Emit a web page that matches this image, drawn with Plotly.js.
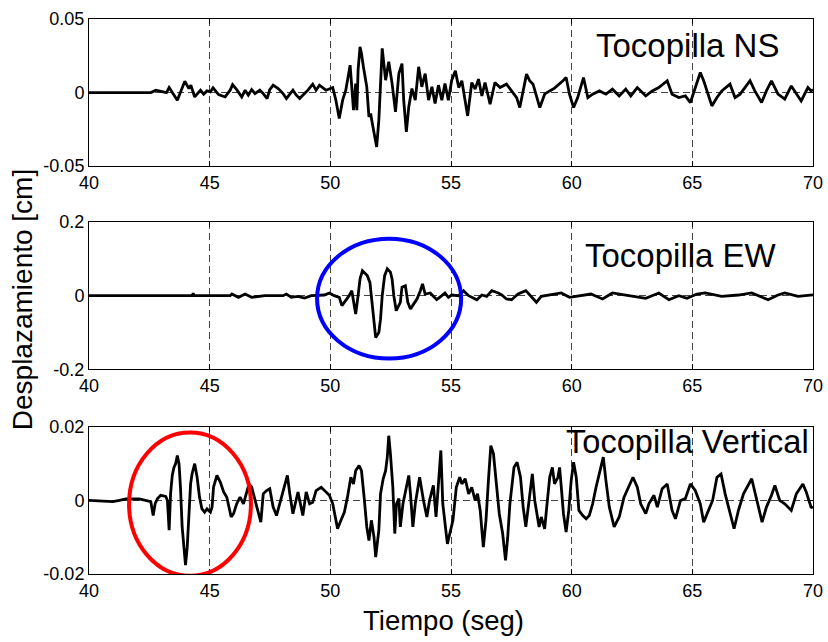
<!DOCTYPE html>
<html>
<head>
<meta charset="utf-8">
<script src="https://cdn.plot.ly/plotly-3.0.1.min.js"></script>
<style>html,body{margin:0;padding:0;background:#fff;}#chart{width:828px;height:642px;}</style>
</head>
<body>
<div id="chart"></div>
<script>
// ---- Tocopilla NS ----
var nsTime = [
  40, 42.56, 42.77, 43.21, 43.32, 43.66, 43.97, 44.14, 44.22, 44.38,
  44.62, 44.75, 44.89, 45.03, 45.14, 45.37, 45.64, 45.85, 45.95, 46.12,
  46.33, 46.47, 46.6, 46.74, 46.88, 47.08, 47.22, 47.38, 47.49, 47.63,
  47.84, 48.04, 48.18, 48.45, 48.59, 48.73, 48.93, 49.07, 49.27, 49.41,
  49.55, 49.82, 50.1, 50.23, 50.37, 50.51, 50.64, 50.82, 50.96, 51.05,
  51.1, 51.15, 51.23, 51.29, 51.37, 51.51, 51.6, 51.67, 51.74, 51.85,
  51.92, 52.01, 52.08, 52.15, 52.29, 52.42, 52.56, 52.7, 52.84, 52.97,
  53.04, 53.15, 53.25, 53.38, 53.52, 53.66, 53.79, 53.93, 54.07, 54.21,
  54.34, 54.48, 54.62, 54.75, 54.89, 55.03, 55.18, 55.32, 55.45, 55.59,
  55.69, 55.86, 56.0, 56.14, 56.28, 56.41, 56.62, 56.82, 57.03, 57.3,
  57.51, 57.72, 57.85, 57.99, 58.13, 58.26, 58.4, 58.68, 58.88, 59.09,
  59.29, 59.64, 59.77, 59.91, 60.08, 60.25, 60.49, 60.67, 60.87, 61.15,
  61.42, 61.69, 61.97, 62.24, 62.45, 62.72, 63.07, 63.34, 63.61, 63.96,
  64.16, 64.44, 64.71, 64.92, 65.12, 65.33, 65.47, 65.6, 65.74, 65.81,
  66.02, 66.22, 66.56, 66.77, 66.98, 67.39, 67.59, 67.87, 68.07, 68.28,
  68.55, 68.83, 69.1, 69.38, 69.51, 69.79, 69.92, 70
];
var nsDisp = [
  0, 0, 0.0016, 0, 0.0034, -0.0052, 0.0077, 0.0027, 0.005, -0.003,
  0.0016, -0.0011, 0.0011, 0.0005, 0.0032, -0.0014, -0.003, 0.0016, 0.0054, 0.002,
  -0.003, 0.0016, -0.0018, 0.002, -0.0007, 0.0016, -0.0007, -0.0041, 0.002, 0.005,
  0.0027, -0.0007, -0.0041, 0.0016, -0.0018, -0.0041, -0.0007, 0.0016, 0.0057, 0.0016,
  0.005, 0.0016, 0.0034, -0.0052, -0.0177, -0.0052, 0.0016, 0.0186, -0.012, 0.0061,
  -0.012, 0.0152, 0.0311, 0.0266, 0.0175, 0.0039, -0.0166, -0.0143, -0.0211, -0.0325,
  -0.037, -0.0188, 0.0107, 0.03, 0.0084, 0.0209, 0.0061, -0.0132, 0.0129, 0.0197,
  -0.0052, -0.0268, -0.0098, 0.0027, -0.0052, 0.0175, 0.0039, 0.0129, -0.0052, 0.0039,
  -0.0075, 0.005, -0.0052, 0.0061, -0.0052, 0.0084, 0.0148, 0.0034, 0.008, -0.0057,
  -0.0159, 0.0068, 0.0023, 0.0091, -0.0023, 0.0068, -0.0079, 0.0068, 0.0034, 0.0057,
  0.0011, -0.0034, -0.0102, 0.0011, 0.0125, 0.008, 0.0057, -0.0102, -0.0011, 0.0011,
  0.003, 0.008, 0.0102, -0.0011, -0.0102, -0.0034, 0.0102, -0.0034, -0.0011, 0.0011,
  -0.0011, 0.0023, -0.0023, 0.0023, -0.0023, 0.0034, -0.0023, 0.0011, 0.0034, 0.008,
  -0.0011, -0.0034, -0.0023, -0.0068, 0.0034, 0.0136, 0.008, 0.0011, -0.0057, -0.0091,
  -0.0034, 0.0011, 0.0057, -0.0034, -0.0011, 0.008, 0.0011, -0.0068, 0.0011, 0.008,
  -0.0011, -0.0045, 0.0045, -0.0023, -0.0057, 0.0034, 0.0011, 0.002
];

// ---- Tocopilla EW ----
var ewTime = [
  40, 44.27, 44.32, 44.36, 45.85, 45.92, 46.19, 46.47, 46.74, 47.01,
  47.29, 48.04, 48.18, 48.38, 48.66, 48.93, 49.21, 49.75, 49.96, 50.16,
  50.37, 50.48, 50.64, 50.78, 50.89, 50.99, 51.05, 51.15, 51.23, 51.33,
  51.53, 51.64, 51.74, 51.81, 51.88, 52.01, 52.08, 52.15, 52.25, 52.36,
  52.49, 52.56, 52.63, 52.73, 52.84, 52.9, 52.97, 53.11, 53.21, 53.32,
  53.45, 53.59, 53.73, 53.82, 53.93, 54.14, 54.27, 54.41, 54.62, 54.75,
  54.89, 55.03, 55.32, 55.52, 55.73, 56.07, 56.28, 56.48, 56.69, 56.96,
  57.1, 57.3, 57.51, 57.78, 58.1, 58.33, 58.54, 58.74, 59.09, 59.57,
  59.91, 60.32, 60.8, 61.28, 61.69, 62.24, 63.07, 63.61, 64.03, 64.44,
  64.78, 65.19, 65.53, 66.22, 66.91, 67.46, 68.14, 68.55, 68.83, 69.38,
  69.92, 70
];
var ewDisp = [
  0, 0, 0.0064, 0, 0, 0.0045, -0.0045, 0.0045, -0.0045, -0.0018,
  0, 0, 0.0045, -0.0045, -0.0018, -0.0064, 0, 0.0018, 0.0073, 0,
  -0.0045, -0.027, -0.0136, 0, 0.0136, -0.027, -0.05, 0, 0.045, 0.068,
  0.0545, 0.036, -0.027, -0.082, -0.114, -0.1, -0.064, 0, 0.0545, 0.073,
  0.064, 0.045, 0, -0.041, -0.027, -0.018, 0.023, 0.027, -0.018, -0.036,
  -0.023, -0.009, 0.0136, 0.032, 0.0045, 0.0073, -0.0018, -0.011, 0, 0.0073,
  -0.0045, 0.0018, 0, 0.0136, 0, -0.011, 0.0018, -0.0018, 0.0136, 0.0073,
  0.0018, -0.009, -0.011, 0.0045, 0.0136, -0.0045, -0.018, -0.0018, 0.0018, 0.0073,
  -0.0045, 0, 0.0045, -0.009, 0.0073, 0.0018, -0.0073, 0.0073, -0.011, 0,
  -0.0073, 0.0045, 0.0073, -0.0018, 0.0018, 0.0073, -0.011, 0.0018, 0.0073, -0.0018,
  0.0018, 0.002
];

// ---- Tocopilla Vertical ----
var vtTime = [
  40, 40.99, 41.26, 41.53, 42.08, 42.36, 42.56, 42.66, 42.74, 42.84,
  42.97, 43.18, 43.25, 43.32, 43.38, 43.45, 43.52, 43.59, 43.66, 43.73,
  43.79, 43.86, 43.93, 44.0, 44.07, 44.14, 44.21, 44.27, 44.38, 44.48,
  44.58, 44.68, 44.79, 44.89, 45.03, 45.1, 45.16, 45.3, 45.44, 45.58,
  45.71, 45.89, 45.99, 46.12, 46.26, 46.4, 46.63, 46.74, 46.88, 47.12,
  47.22, 47.36, 47.49, 47.63, 47.77, 47.97, 48.22, 48.32, 48.45, 48.66,
  48.86, 49.0, 49.14, 49.27, 49.41, 49.62, 49.82, 49.96, 50.1, 50.23,
  50.3, 50.44, 50.58, 50.71, 50.85, 50.96, 51.05, 51.19, 51.29, 51.4,
  51.51, 51.6, 51.7, 51.81, 51.88, 52.01, 52.08, 52.19, 52.29, 52.36,
  52.42, 52.49, 52.59, 52.67, 52.74, 52.84, 52.9, 53.01, 53.25, 53.32,
  53.42, 53.52, 53.7, 53.86, 54.0, 54.11, 54.27, 54.38, 54.52, 54.58,
  54.66, 54.79, 54.85, 55.08, 55.22, 55.36, 55.45, 55.59, 55.73, 55.86,
  56.0, 56.1, 56.21, 56.34, 56.45, 56.55, 56.65, 56.76, 56.87, 57.0,
  57.14, 57.26, 57.35, 57.44, 57.61, 57.74, 57.88, 57.99, 58.1, 58.2,
  58.37, 58.47, 58.65, 58.74, 58.88, 58.98, 59.09, 59.2, 59.29, 59.43,
  59.5, 59.57, 59.66, 59.77, 59.88, 59.98, 60.08, 60.19, 60.3, 60.46,
  60.6, 60.73, 60.87, 61.01, 61.15, 61.31, 61.42, 61.56, 61.76, 61.97,
  62.17, 62.54, 62.72, 62.86, 63.07, 63.2, 63.41, 63.55, 63.75, 63.96,
  64.16, 64.3, 64.51, 64.71, 64.92, 65.12, 65.33, 65.47, 65.67, 65.84,
  66.02, 66.19, 66.36, 66.56, 66.73, 66.91, 67.12, 67.46, 67.62, 67.8,
  67.89, 68.07, 68.28, 68.42, 68.62, 68.83, 69.1, 69.31, 69.58, 69.72,
  69.92, 70
];
var vtDisp = [
  0, -0.0003, 0, 0.0004, 0.0004, 0, -0.0003, -0.0041, -0.0009, 0.0005,
  0.0014, 0.0011, 0, -0.0081, 0.0018, 0.0068, 0.009, 0.01, 0.0122, 0.01,
  0.0036, -0.0072, -0.0136, -0.0176, -0.0127, -0.0018, 0.0045, 0.0072, 0.01, 0.0063,
  0.0009, -0.0023, -0.0032, -0.0023, -0.0032, -0.0018, 0.0036, 0.0068, 0.005, 0.0023,
  0.0009, -0.0045, -0.0036, -0.0009, 0.0009, -0.0009, 0.0045, 0.0036, 0, -0.0059,
  0.0018, 0.0027, 0.0032, -0.0018, -0.0041, 0.0009, 0.0068, 0.0018, -0.0036, 0.0023,
  -0.0041, 0.0023, -0.0009, -0.0005, 0.0027, 0.0036, 0.0023, 0.0014, -0.0009, -0.0054,
  -0.0077, -0.0054, -0.0032, 0.0009, 0.0063, 0.0045, 0.0081, 0.0095, 0.0081, 0.0009,
  -0.0072, -0.0109, -0.0054, -0.01, -0.0154, -0.0081, 0.0018, 0.0059, 0.0081, 0.0118,
  0.0176, 0.0127, 0.0036, -0.009, -0.0009, 0.0005, -0.0072, -0.0009, 0.0068, 0.0018,
  -0.0072, -0.0009, 0.0063, 0, -0.0045, 0, 0.0041, -0.0045, 0.009, 0.0136,
  -0.0009, -0.009, -0.0118, -0.0054, 0.0036, 0.0063, 0.0045, 0.0059, 0.0018, 0.0036,
  0, 0.0018, -0.0027, -0.0127, -0.0054, 0.0054, 0.0149, 0.0127, 0.0045, -0.0036,
  -0.009, -0.0163, -0.01, -0.0009, 0.009, 0.0104, 0.0063, -0.0018, -0.0072, -0.0018,
  0.0072, 0, -0.0072, -0.0045, -0.0077, -0.0009, 0.0063, 0.009, 0.0045, 0.0063,
  0.009, 0.0036, -0.0036, -0.0086, -0.0027, 0.0054, 0.0104, 0.0063, -0.0027, -0.0041,
  -0.005, -0.0041, -0.0009, 0.0036, 0.0072, 0.0118, 0.0054, -0.0018, -0.0072, -0.0045,
  0.0009, 0.0063, 0.0036, -0.0009, -0.0036, -0.0009, 0.0014, -0.0018, 0.0032, 0.0045,
  -0.0027, -0.005, 0, 0.0005, 0.0045, 0.0027, -0.0009, -0.0059, -0.0027, 0,
  0.0063, 0.0072, 0.0018, -0.0036, -0.0077, -0.0027, 0.0018, 0.0059, 0.0018, -0.0036,
  -0.0059, -0.0018, 0.0014, 0.0041, 0, -0.0009, -0.0027, 0.0018, 0.0045, 0.0023,
  -0.0018, -0.002
];

var panelTitles = ["Tocopilla NS", "Tocopilla EW", "Tocopilla Vertical"];
var xTicks = [40, 45, 50, 55, 60, 65, 70];
var nsTicks = [-0.05, 0, 0.05], nsLabels = ["-0.05", "0", "0.05"];
var ewTicks = [-0.2, 0, 0.2], ewLabels = ["-0.2", "0", "0.2"];
var vtTicks = [-0.02, 0, 0.02], vtLabels = ["-0.02", "0", "0.02"];
var yLabel = "Desplazamiento [cm]";
var xLabel = "Tiempo (seg)";

var FONT = "Liberation Sans, Arial, Helvetica, sans-serif";
var lineStyle = {color: "#000", width: 2.8};

var traces = [
  {x: nsTime, y: nsDisp, xaxis: "x", yaxis: "y", type: "scatter", mode: "lines", line: lineStyle, hoverinfo: "skip"},
  {x: ewTime, y: ewDisp, xaxis: "x2", yaxis: "y2", type: "scatter", mode: "lines", line: lineStyle, hoverinfo: "skip"},
  {x: vtTime, y: vtDisp, xaxis: "x3", yaxis: "y3", type: "scatter", mode: "lines", line: lineStyle, hoverinfo: "skip"}
];

var tickFont = {family: FONT, size: 18, color: "#000"};

function xAx(anchor) {
  return {
    anchor: anchor, domain: [0, 1], range: [40, 70], tickvals: xTicks, ticktext: xTicks.map(String),
    ticks: "inside", ticklen: 5, tickcolor: "#000", showline: true, linecolor: "#000", linewidth: 1, mirror: "ticks",
    showgrid: true, gridcolor: "#444", griddash: "7px,4px", gridwidth: 1, zeroline: false,
    tickfont: tickFont, fixedrange: true
  };
}
function yAx(anchor, dom, rng, tv, tt) {
  return {
    anchor: anchor, domain: dom, range: rng, tickvals: tv, ticktext: tt,
    ticks: "inside", ticklen: 5, tickcolor: "#000", showline: true, linecolor: "#000", linewidth: 1, mirror: "ticks",
    showgrid: true, gridcolor: "#444", griddash: "7px,4px", gridwidth: 1, zeroline: false,
    tickfont: tickFont, fixedrange: true
  };
}

var layout = {
  width: 828, height: 642,
  margin: {l: 89, r: 15, t: 19, b: 68},
  paper_bgcolor: "#fff", plot_bgcolor: "#fff",
  showlegend: false,
  font: {family: FONT, color: "#000"},
  xaxis: xAx("y"),
  yaxis: yAx("x", [0.735, 1], [-0.05, 0.05], nsTicks, nsLabels),
  xaxis2: xAx("y2"),
  yaxis2: yAx("x2", [0.369, 0.634], [-0.2, 0.2], ewTicks, ewLabels),
  xaxis3: xAx("y3"),
  yaxis3: yAx("x3", [0, 0.265], [-0.02, 0.02], vtTicks, vtLabels),
  shapes: [
    {type: "circle", xref: "x2", yref: "y2", x0: 49.45, x1: 55.42, y0: -0.171, y1: 0.155,
     line: {color: "#0000ff", width: 4}},
    {type: "circle", xref: "x3", yref: "y3", x0: 41.66, x1: 46.71, y0: -0.0205, y1: 0.0185,
     line: {color: "#ff0000", width: 4}}
  ],
  annotations: [
    {text: panelTitles[0], xref: "paper", yref: "paper", x: 0.826, y: 0.953, xanchor: "center", yanchor: "middle",
     showarrow: false, font: {family: FONT, size: 33, color: "#000"}},
    {text: panelTitles[1], xref: "paper", yref: "paper", x: 0.818, y: 0.574, xanchor: "center", yanchor: "middle",
     showarrow: false, font: {family: FONT, size: 33, color: "#000"}},
    {text: panelTitles[2], xref: "paper", yref: "paper", x: 0.826, y: 0.238, xanchor: "center", yanchor: "middle",
     showarrow: false, font: {family: FONT, size: 32.6, color: "#000"}},
    {text: yLabel, xref: "paper", yref: "paper", x: -0.092, y: 0.494, xanchor: "center", yanchor: "middle",
     textangle: -90, showarrow: false, font: {family: FONT, size: 28, color: "#000"}},
    {text: xLabel, xref: "paper", yref: "paper", x: 0.49, y: -0.083, xanchor: "center", yanchor: "middle",
     showarrow: false, font: {family: FONT, size: 27.5, color: "#000"}}
  ]
};

Plotly.newPlot("chart", traces, layout, {displayModeBar: false, staticPlot: true});
</script>
</body>
</html>
